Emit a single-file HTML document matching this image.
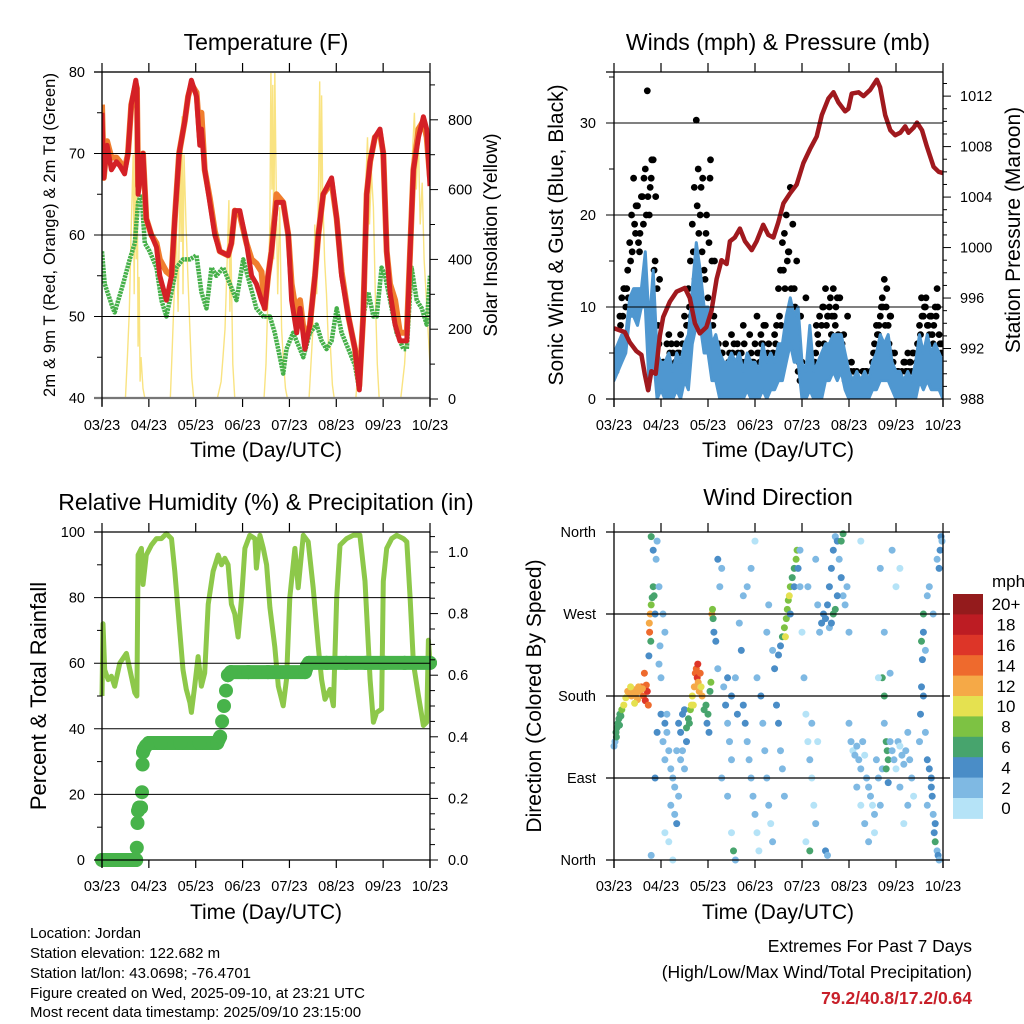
<!DOCTYPE html>
<html><head><meta charset="utf-8"><style>
html,body{margin:0;padding:0;background:#fff;}
svg{display:block;font-family:"Liberation Sans",Arial,sans-serif;}
</style></head><body>
<svg id="fig" xmlns="http://www.w3.org/2000/svg" width="1024" height="1024" viewBox="0 0 1024 1024">
<rect x="0" y="0" width="1024" height="1024" fill="#fff"/>
<defs>
<clipPath id="c1"><rect x="102" y="72" width="328" height="327"/></clipPath>
<clipPath id="c2"><rect x="614" y="72" width="329" height="327"/></clipPath>
<clipPath id="c3"><rect x="95" y="525" width="345" height="345"/></clipPath>
<clipPath id="c4"><rect x="608" y="526" width="341" height="340"/></clipPath>
</defs>
<text x="266" y="50" font-size="23" text-anchor="middle">Temperature (F)</text>
<text x="778" y="50" font-size="23" text-anchor="middle">Winds (mph) &amp; Pressure (mb)</text>
<text x="266" y="510" font-size="23" text-anchor="middle">Relative Humidity (%) &amp; Precipitation (in)</text>
<text x="778" y="505" font-size="23" text-anchor="middle">Wind Direction</text>
<text transform="translate(55,235) rotate(-90)" font-size="16.5" text-anchor="middle" textLength="324">2m &amp; 9m T (Red, Orange) &amp; 2m Td (Green)</text>
<text transform="translate(497,235) rotate(-90)" font-size="19" text-anchor="middle">Solar Insolation (Yellow)</text>
<text transform="translate(563,235) rotate(-90)" font-size="21" text-anchor="middle">Sonic Wind &amp; Gust (Blue, Black)</text>
<text transform="translate(1020,230) rotate(-90)" font-size="21" text-anchor="middle">Station Pressure (Maroon)</text>
<text transform="translate(46,696) rotate(-90)" font-size="22" text-anchor="middle">Percent &amp; Total Rainfall</text>
<text transform="translate(541,696) rotate(-90)" font-size="21" text-anchor="middle">Direction (Colored By Speed)</text>
<text x="266" y="457" font-size="21" text-anchor="middle">Time (Day/UTC)</text>
<text x="778" y="457" font-size="21" text-anchor="middle">Time (Day/UTC)</text>
<text x="266" y="919" font-size="21" text-anchor="middle">Time (Day/UTC)</text>
<text x="778" y="919" font-size="21" text-anchor="middle">Time (Day/UTC)</text>
<g font-size="15">
<text x="30" y="938">Location: Jordan</text>
<text x="30" y="958">Station elevation: 122.682 m</text>
<text x="30" y="978">Station lat/lon: 43.0698; -76.4701</text>
<text x="30" y="998">Figure created on Wed, 2025-09-10, at 23:21 UTC</text>
<text x="30" y="1017">Most recent data timestamp: 2025/09/10 23:15:00</text>
</g>
<text x="972" y="952" font-size="17.5" text-anchor="end">Extremes For Past 7 Days</text>
<text x="972" y="978" font-size="17.5" text-anchor="end">(High/Low/Max Wind/Total Precipitation)</text>
<text x="972" y="1004" font-size="17.5" font-weight="bold" fill="#c8202a" text-anchor="end">79.2/40.8/17.2/0.64</text>
<text x="992" y="587" font-size="17">mph</text>
</svg>
<script>
const dayLabels=['03/23','04/23','05/23','06/23','07/23','08/23','09/23','10/23'];
const tempT=[0,0.9,2.6,4.8,7.4,9.1,11.6,13.3,15,17.3,17.9,18.5,19.7,21,22.7,25.3,27.9,29.6,33,35.6,37.3,39.5,42.4,44.1,45.8,48.4,50.1,50.9,52.6,55.2,57.8,60.3,64.6,66.3,68,70.6,74,76.6,79.1,81.7,83.4,85.1,86.8,89.4,92.8,95.4,97.1,99.7,101.4,103.9,106.5,109.1,110.8,113.3,117.6,120.2,122.7,126.2,129.6,131.8,133.8,135.6,137.3,139.8,142.4,144.1,145.8,147.5,150.1,152.6,156.1,157.8,159.5,162.1,164.6,166.3,168];
const tempRed=[75,67,71,68,69,68.5,67.5,70,76,79,78,65,67,70,62,60,58.5,55,52,55,62,70,74,77,79,77,71,73,68,64,60,58,57.5,59,63,63,59,55,54,52,51,55,58,64,64,60,52,48,51,46,49,55,60,65,67,62,55,50,46,41,50,65,69,72,73,70,58,53,49,47,47,58,68,72,74.5,73,66];
const tempOrange=[76,67,71.5,69.5,69.5,69,68,70,76,78.5,78,66,67,70,62,60,59,57,55.5,55,62,70,74,77,78.5,77.5,72,75,68,64.5,60.5,58,57.5,59,63,62.5,59,57,56.5,55.5,51,55,58,65,64,60,54,50,52,47,49,55,60,65,66.5,62,55.5,50,46,41.5,50,65,69,72,72.5,70,58,54,52,48,48,58,68,73,74,72,67];
const tdT=[0,1.4,5.6,6.5,10.8,14.2,16.8,18.5,20.2,21.9,24.4,27.9,30.4,33,35.6,38.1,41.5,45,48.4,50.9,53.5,56.1,58.6,62.1,65.5,68.9,72.3,75.7,79.1,82.6,86,88.5,91.1,92.8,94.5,97.9,101.4,103.1,106.5,109.9,112.5,115,117.6,120.2,122.7,126.2,129.6,131.8,133.8,136.4,139,140.7,143.2,145,147.5,150.9,154.4,156.1,158.6,161.2,163.8,166.3,168];
const tdV=[58,54,51,50.5,54,57,59,64,65,59,58,56,52,50,53,56,57,57,57.5,53,51,56,55,56,54,52,57,54,51,50,50,48,45,43,46,48,46,45,48,49,47,46,47,51,48,46,44,41,50,53,50,50,56,55,52,48,46,46,56,52,51,49,55];
const solT=[0,12,13,14,15,16,16.5,17,17.5,18,18.5,19,19.5,20,21,22,35,36,37,38,39,40,40.5,41,41.5,42,43,44,45,46,47,59,61,62,63,64,65,65.5,66,67,68,83,84,85,86,86.5,87,87.5,88,88.5,89,90,91,92,93,94,95,106,108,109,110,111,111.5,112,112.5,113,114,115,116,117,118,119,130,132,134,135,136,137,138,139,140,141,142,153,155,157,158,159,160,161,162,163,164,165,166,167,168];
const solV=[0,0,120,250,500,700,300,780,400,700,150,350,50,120,30,0,0,150,300,500,250,650,450,810,300,700,500,350,200,60,0,0,50,120,200,380,570,250,450,100,0,0,100,300,500,950,600,900,400,950,700,300,550,200,100,30,0,0,200,500,300,650,910,500,870,600,400,300,150,150,40,0,0,150,300,600,750,500,650,550,300,100,0,0,100,300,500,700,820,600,750,500,620,400,300,200,100];
const windHi=[5,6,7,7,11,12,12,12,16,8,14,5,4,4,5,3,5,4,6,7,12,17,14,10,10,6,7,5,4,4,5,4,5,3,5,4,4,3,6,4,5,4,6,6,9,11,9,10,4,3,8,3,4,5,6,6,7,7,7,5,3,2,3,2,3,2,4,5,7,6,7,4,3,3,2,3,2,4,7,5,7,5,6,5,4];
const windLo=[2,3,4,5,9,9,8,10,10,1,5,0,1,0,0,0,1,0,2,1,6,8,8,5,5,2,2,0,0,0,0,0,0,0,1,0,0,0,1,0,1,1,2,2,4,6,4,4,0,0,1,0,0,0,2,2,3,2,3,1,0,0,0,0,0,0,1,1,2,2,2,1,0,0,0,0,0,0,2,1,2,1,1,1,0];
const gustHourly=[4,3,5,9,11,12,10,14,17,20,24,18,21,16,22,19,25,33.5,20,24,26,15,12,6,3,4,2,6,7,3,5,2,6,4,7,6,9,8,12,15,19,23,30.3,25,20,16,14,18,11,24,15,9,6,4,3,5,2,6,3,5,7,4,3,6,2,5,8,4,3,2,5,3,6,9,5,7,6,4,3,6,4,5,7,8,12,14,17,18,20,16,23,10,12,7,3,2,4,2,11,3,2,4,3,5,7,9,8,10,12,9,10,7,12,8,11,6,5,3,2,3,2,3,2,2,3,2,2,3,2,3,2,3,4,6,8,7,9,11,13,10,8,9,5,3,2,3,2,3,4,3,5,4,3,5,3,6,8,11,9,10,8,7,9,6,10,12,7,5,4];
const gust2h=[3,4,9,12,15,19,17,22,20,23,14,8,2,3,5,3,5,2,6,10,16,21,23,13,17,8,5,4,3,4,5,4,3,6,2,4,3,4,8,5,4,6,9,14,15,12,10,4,2,3,2,4,6,10,8,11,9,7,6,4,2,3,2,2,3,2,5,7,10,8,6,4,3,2,4,3,5,4,7,10,8,7,9,6,4];
const gustOdd=[4,8,12,11,16,21,18,24,22,26,22,13,4,3,6,4,5,3,8,9,13,18,24,20,26,15,6,5,3,3,6,5,4,3,7,4,5,6,8,4,5,5,8,12,16,19,15,9,3,3,2,8,4,6,9,9,10,11,7,9,4,2,2,3,2,3,5,8,10,12,9,5,3,2,3,4,3,6,9,11,9,8,10,6];
const presT=[0,5.5,8,11.4,14,15.7,17.4,19.1,21.3,23.4,25.1,28.5,31.9,36.2,38.7,41.3,43.8,47.2,49.8,52.4,54.9,57.5,59.2,61.7,64.3,66.9,70.3,72.8,76.2,78.8,81.4,83.9,86.5,89.9,93.3,96.7,100.1,103.5,106.1,109.5,112.1,114.6,118,119.7,121.4,124.9,127.4,130.8,134.2,135.9,138.5,141.1,143.6,146.2,148.7,150.4,153,154.7,157.3,159.8,163.2,165.8,168];
const presV=[993.6,993.3,992.5,991.8,991.5,990,988.7,990.2,990,993,994.5,995.7,996.5,996.8,996,994,993.2,993.7,995,997.5,999,998.7,1000.5,1000.8,1001.5,1000.5,999.8,1000.5,1001.8,1001,1000.8,1002,1003.5,1004.3,1005,1006.7,1007.8,1008.8,1010.5,1011.8,1012.3,1011.5,1010.8,1011,1012.2,1012.3,1012,1012.5,1013.3,1012.7,1010.5,1009.3,1008.9,1009.1,1009.6,1009.1,1009.5,1009.9,1009.3,1008,1006.4,1006,1005.9];
const rhT=[0,0.5,1.4,3.1,4.8,6.5,9.1,12.5,15,16.8,17.9,18.5,20.2,21,22.7,25.3,27.9,30.4,33,35.6,37.3,39.8,41.5,43.2,45,45.8,47.5,49.2,50.9,52.6,54.4,56.9,59.5,61.2,62.9,64.6,66.3,68,69.7,71.5,73.2,75.7,78.3,79.1,80.9,82.6,84.3,86,88.5,90.3,92.8,94.5,96.2,98.8,100.5,103.1,105.6,108.2,110.8,112.5,114.2,116.8,118.5,120.2,121.9,125.3,128.7,132.1,134.7,137.3,139,140.7,143.2,144.1,145.8,148.4,150.9,154.4,156.1,157.8,159.5,162.1,164.6,166.3,167.2,168];
const rhV=[50,72,58,55,56,53,60,63,56,51,50,93,95,84,93,96,98,98,99.5,98,88,70,58,52,48,45,53,62,53,57,78,88,93,90,92,90,78,75,68,80,95,99,98,89,99,95,90,77,65,53,47,55,80,95,83,99,97,83,65,55,49,52,47,80,96,98,99,99,85,55,42,45,46,85,95,98,99,98,97,80,60,50,41,42,67,60];
const rainT=[0,3,6,9,12,15,17.5,17.8,18.2,18.5,19,20,20.5,20.8,21,21.5,22.5,24,30,40,50,59,60.5,61.5,62.5,63.5,64.5,66,75,85,95,104,105,106,115,125,135,145,155,168];
const rainV=[0,0,0,0,0,0,0,0.04,0.12,0.16,0.17,0.17,0.22,0.31,0.35,0.36,0.37,0.38,0.38,0.38,0.38,0.38,0.40,0.45,0.50,0.55,0.60,0.61,0.61,0.61,0.61,0.61,0.63,0.64,0.64,0.64,0.64,0.64,0.64,0.64];
const dirTime=[0,0.5,1,1.5,2,2.5,3,3.5,4,1.2,2.8,
5,6,7,8,9,10,11,12,13,14,15,16,16.5,17,17.5,15.5,14.5,10.5,12.5,8.5,
18,18.5,19,19.5,20,18.2,18.8,20.5,17.8,20,19,21,21.5,22,23.5,23,24,24,25,26,22,21,19,
26,27,28,29,30,31,29,32,33,34,35,36,35,33,31,28,30,27,26,37,36,34,25,26,23,32,
37,38,39,38.5,39.5,
40,41,41.5,42,42.5,43,43.5,44,44.5,45,40.5,42.8,
46,47,48,49,49.5,47.5,48.5,50,50.3,50.6,51,52,53,54,55,53,56,57,58,59,60,55,58,60,61,62,58,60,63,62,64,66,65,66,67,68,69,70,71,72,73,74,68,70,72,73,75,76,77,78,79,80,81,78,79,81,82,83,84,85,86,87,
84,85,86,87,88,88.5,89,90,91,92,93,93.5,89.5,87.5,92,90,94,95,95,
96,97,98,99,100,101,102,103,100,98,101,104,99,103,104,105,106,107,
108,109,110,111,112,113,114,115,116,117,118,112,113,114,110,111,116,117,119,120,108,109,
120,121,122,123,124,125,126,127,128,129,130,131,132,133,134,135,133,130,128,126,124,136,137,138,139,139.5,140,139,138,137,140,141,142,143,144,145,146,147,148,149,150,151,152,153,150,148,146,144,146,142,136,126,138,141,135,
156,156.5,157,157.5,158,158,157,159,160,161,159,161,162,162.5,163,163.5,164,165,165.5,166,160,162,164,166,166.5,167,167.5,165,163,160,158];
const dirDeg=[125,130,140,145,150,155,160,158,165,135,148,
170,178,185,183,180,187,182,176,185,190,180,175,192,185,170,205,188,172,190,190,
260,270,280,288,300,250,240,290,224,340,355,270,330,350,235,215,200,160,130,110,140,90,5,
150,140,120,100,90,80,60,40,150,140,120,100,160,70,50,20,0,160,30,130,165,110,270,250,300,120,
145,155,165,150,170,
180,190,205,210,200,195,185,205,190,180,170,215,
165,170,160,185,195,150,140,270,275,265,250,240,210,300,320,330,190,170,150,130,110,90,70,30,10,0,200,180,160,200,260,290,230,170,150,130,110,90,70,50,30,10,300,320,350,200,180,150,120,90,60,40,20,250,280,230,210,170,150,120,100,70,
225,235,245,255,265,275,285,300,310,320,330,340,290,245,300,270,320,300,340,
250,200,160,130,110,90,60,40,10,20,150,130,300,330,280,250,260,270,
265,280,300,320,340,355,350,330,310,290,280,270,275,290,255,260,350,358,300,250,10,5,
150,130,120,115,125,110,100,130,115,90,80,70,60,50,110,90,30,20,40,60,80,60,100,150,130,120,110,100,180,200,85,130,120,110,100,130,125,115,105,120,140,110,90,70,60,40,80,300,320,340,320,350,250,205,200,
130,160,190,220,250,270,240,230,290,300,140,100,90,70,50,30,20,10,5,0,110,80,40,320,340,355,350,330,270,60,180];
const dirSpeed=[3,3,6,6,7,6,7,6,8,6,7,
10,11,12,12,12,12,13,12,13,14,15,16,14,17,15,15,12,11,13,11,
13,12,8,7,7,15,6,6,4,5,7,4,3,2,3,3,2,4,2,3,4,4,3,
4,3,2,2,3,2,2,4,4,5,3,2,4,3,2,1,1,2,1,5,5,2,2,3,3,3,
7,7,8,6,10,
11,12,14,15,16,13,12,14,11,13,10,16,
6,6,6,7,8,5,4,12,8,7,5,4,3,3,2,4,3,4,3,2,2,2,2,1,7,2,5,4,4,3,2,3,4,5,4,3,3,2,2,2,1,1,3,2,1,3,4,3,2,2,2,1,2,2,3,3,4,4,5,2,3,2,
4,4,6,8,8,9,8,9,7,7,8,9,10,10,5,4,4,3,2,
1,2,1,1,2,1,1,2,6,1,2,1,2,3,2,3,4,4,
4,5,4,5,4,3,4,3,4,3,3,6,7,5,3,5,7,6,2,2,4,3,
2,2,1,3,2,2,3,2,1,2,3,2,1,2,3,2,1,2,2,1,2,3,2,3,6,7,6,6,7,6,4,2,3,2,1,2,1,2,3,2,3,2,2,1,2,1,2,1,1,3,2,1,2,2,1,
3,4,4,4,4,6,6,3,2,2,3,4,5,4,3,4,6,3,4,3,5,4,5,4,5,4,3,3,2,2,5];
const speedBinLabels=['0','2','4','6','8','10','12','14','16','18','20+'];
const speedBinColors=['#b5e3f7','#7fb9e3','#4a8dc7','#47a46d','#7dc243','#e5e150','#f5a947','#ee6a2d','#dd3528','#bd1c23','#941b1c'];

const NS='http://www.w3.org/2000/svg';
const svg=document.getElementById('fig');
function mk(tag,attrs,parent){const e=document.createElementNS(NS,tag);for(const k in attrs)e.setAttribute(k,attrs[k]);(parent||svg).appendChild(e);return e;}
function pts(ts,vs,fx,fy){let s=[];const n=Math.min(ts.length,vs.length);for(let i=0;i<n;i++)s.push(fx(ts[i]).toFixed(1)+','+fy(vs[i]).toFixed(1));return s.join(' ');}
const xL=t=>102+t*328/168;
const xR=t=>614+t*329/168;
const yTemp=v=>72+(80-v)*326/40;
const ySol=w=>399-w*0.349;
const yWind=v=>399-v*9.2;
const yPres=p=>399-(p-988)*12.62;
const yRH=v=>860-v*3.28;
const yRain=v=>860-v*308;
const yDir=d=>860-d*328/360;

function line(x1,y1,x2,y2,stroke,w,name){
  const e=mk('line',{x1:x1,y1:y1,x2:x2,y2:y2,stroke:stroke,'stroke-width':w});
  
  
  return e;
}
function txt(x,y,s,anchor,size,name){
  const e=mk('text',{x:x,y:y,'text-anchor':anchor,'font-size':size});
  e.textContent=s;
  
  
  return e;
}
function xAxis(xf,top,bot,prefix){
  for(let i=0;i<dayLabels.length;i++){
    const x=xf(i*24);
    line(x,top-9,x,top,'#000',1.2,prefix+'-top-tick');
    line(x,bot,x,bot+8,'#000',1.2,prefix+'-bottom-tick');
    txt(x,bot+31,dayLabels[i],'middle',14.5,prefix+'-x-tick-label');
  }
}

/* Panel 1 */
const g1=mk('g',{'clip-path':'url(#c1)'});


[50,60,70].forEach(v=>line(94,yTemp(v),430,yTemp(v),'#000',1,'temperature-gridline'));
[45,55,65,75].forEach(v=>line(97,yTemp(v),102,yTemp(v),'#000',1,'temperature-minor-tick'));
for(let w=0;w<=900;w+=100){line(430,ySol(w),w%200===0?438:435,ySol(w),'#000',1,'solar-tick');}
for(let w=0;w<=800;w+=200){txt(448,ySol(w)+5,String(w),'start',14.5,'solar-tick-label');}
for(let v=40;v<=80;v+=10){txt(85,yTemp(v)+5,String(v),'end',14.5,'temperature-tick-label');}
const solLine=mk('polyline',{points:pts(solT,solV,xL,ySol),fill:'none',stroke:'#f9e27a','stroke-width':1.4,opacity:0.95},g1);


const tdLine=mk('polyline',{points:pts(tdT,tdV,xL,yTemp),fill:'none',stroke:'#46b04a','stroke-width':4.5,'stroke-dasharray':'2.5 0.8','stroke-linejoin':'round'},g1);


const orLine=mk('polyline',{points:pts(tempT,tempOrange,xL,yTemp),fill:'none',stroke:'#f07e2e','stroke-width':6,'stroke-linejoin':'round'},g1);


const redLine=mk('polyline',{points:pts(tempT,tempRed,xL,yTemp),fill:'none',stroke:'#d42026','stroke-width':5,'stroke-linejoin':'round'},g1);


line(94,72,430,72,'#555',2,'temperature-top-border');
line(94,398,430,398,'#777',2.2,'temperature-bottom-border');
line(102,72,102,406,'#000',1.3,'temperature-left-axis');
line(430,72,430,406,'#000',1.3,'temperature-right-axis');
xAxis(xL,72,399,'temperature');

/* Panel 2 */
const g2=mk('g',{'clip-path':'url(#c2)'});


[10,20,30].forEach(v=>line(606,yWind(v),943,yWind(v),'#000',1,'wind-gridline'));
[5,15,25,35].forEach(v=>line(609,yWind(v),614,yWind(v),'#000',1,'wind-minor-tick'));
for(let v=0;v<=30;v+=10){txt(596,yWind(v)+5,String(v),'end',14.5,'wind-tick-label');}
for(let p=988;p<=1013;p+=1){line(943,yPres(p),(p-988)%4===0?951:947,yPres(p),'#000',1,'pressure-tick');}
for(let p=988;p<=1012;p+=4){txt(960,yPres(p)+5,String(p),'start',14.5,'pressure-tick-label');}
for(let i=0;i<gustHourly.length;i++){
  const c=mk('circle',{cx:xR(i).toFixed(1),cy:yWind(gustHourly[i]).toFixed(1),r:3.4,fill:'#000'},g2);
  
  
}
for(let i=0;i<gust2h.length;i++){
  const c=mk('circle',{cx:xR(i*2+0.5).toFixed(1),cy:yWind(gust2h[i]).toFixed(1),r:3.4,fill:'#000'},g2);
  
  
}
for(let i=0;i<gustOdd.length;i++){
  const c=mk('circle',{cx:xR(i*2+1.3).toFixed(1),cy:yWind(gustOdd[i]).toFixed(1),r:3.4,fill:'#000'},g2);
  
  
}
let band=[];
for(let i=0;i<windHi.length;i++)band.push(xR(i*2).toFixed(1)+','+yWind(windHi[i]).toFixed(1));
for(let i=windLo.length-1;i>=0;i--)band.push(xR(i*2).toFixed(1)+','+yWind(windLo[i]).toFixed(1));
const spdBand=mk('polygon',{points:band.join(' '),fill:'#4f97d0',stroke:'#4f97d0','stroke-width':3,'stroke-linejoin':'round'},g2);


const presLine=mk('polyline',{points:pts(presT,presV,xR,yPres),fill:'none',stroke:'#a0191e','stroke-width':4.5,'stroke-linejoin':'round'},g2);


line(606,72,943,72,'#000',1.3,'winds-top-border');
line(606,399,943,399,'#000',1.3,'winds-bottom-border');
line(614,72,614,407,'#000',1.3,'winds-left-axis');
line(943,72,943,407,'#000',1.3,'winds-right-axis');
xAxis(xR,72,399,'winds');

/* Panel 3 */
const g3=mk('g',{'clip-path':'url(#c3)'});


[20,40,60,80].forEach(v=>line(94,yRH(v),430,yRH(v),'#000',1,'humidity-gridline'));
[10,30,50,70,90].forEach(v=>line(97,yRH(v),102,yRH(v),'#000',1,'humidity-minor-tick'));
for(let v=0;v<=100;v+=20){txt(85,yRH(v)+5,String(v),'end',14.5,'humidity-tick-label');}
for(let k=0;k<=21;k++){const v=k*0.05;line(430,yRain(v),k%4===0?438:435,yRain(v),'#000',1,'rain-tick');}
for(let k=0;k<=5;k++){const v=k*0.2;txt(448,yRain(v)+5,v.toFixed(1),'start',14.5,'rain-tick-label');}
const rhLine=mk('polyline',{points:pts(rhT,rhV,xL,yRH),fill:'none',stroke:'#8dc84a','stroke-width':5,'stroke-linejoin':'round'},g3);


for(let i=1;i<Math.min(rainT.length,rainV.length);i++){
  if(Math.abs(rainV[i]-rainV[i-1])<0.03){
    const s=mk('line',{x1:xL(rainT[i-1]),y1:yRain(rainV[i-1]),x2:xL(rainT[i]),y2:yRain(rainV[i]),stroke:'#47b34a','stroke-width':14,'stroke-linecap':'round'},g3);
    
    
  }
}
for(let i=0;i<Math.min(rainT.length,rainV.length);i++){
  const c=mk('circle',{cx:xL(rainT[i]).toFixed(1),cy:yRain(rainV[i]).toFixed(1),r:7,fill:'#47b34a'},g3);
  
  
}
line(94,532,430,532,'#000',1.3,'humidity-top-border');
line(94,860,430,860,'#000',1.3,'humidity-bottom-border');
line(102,532,102,868,'#000',1.3,'humidity-left-axis');
line(430,532,430,868,'#000',1.3,'humidity-right-axis');
xAxis(xL,532,860,'humidity');

/* Panel 4 */
const g4=mk('g',{'clip-path':'url(#c4)'});


const dirNames=['North','East','South','West','North'];
for(let k=0;k<5;k++){
  line(606,yDir(k*90),950,yDir(k*90),'#000',1.2,'direction-gridline');
  txt(596,yDir(k*90)+5,dirNames[k],'end',14.5,'direction-tick-label');
}
const nDir=Math.min(dirTime.length,dirDeg.length,dirSpeed.length);
for(let i=0;i<nDir;i++){
  const b=Math.min(10,Math.floor(dirSpeed[i]/2));
  const c=mk('circle',{cx:xR(dirTime[i]).toFixed(1),cy:yDir(dirDeg[i]).toFixed(1),r:3.5,fill:speedBinColors[b]},g4);
  
  
}
line(614,532,614,868,'#000',1.3,'direction-left-axis');
line(943,532,943,868,'#000',1.3,'direction-right-axis');
xAxis(xR,532,860,'direction');
const cbTop=594,cbH=20.4;
for(let k=0;k<speedBinColors.length;k++){
  const idx=speedBinColors.length-1-k;
  const r=mk('rect',{x:953,y:cbTop+k*cbH,width:30,height:cbH+0.5,fill:speedBinColors[idx]});
  
  
  txt(1006,cbTop+k*cbH+cbH/2+6,speedBinLabels[idx],'middle',17,'colorbar-label');
}
</script>
</body></html>
